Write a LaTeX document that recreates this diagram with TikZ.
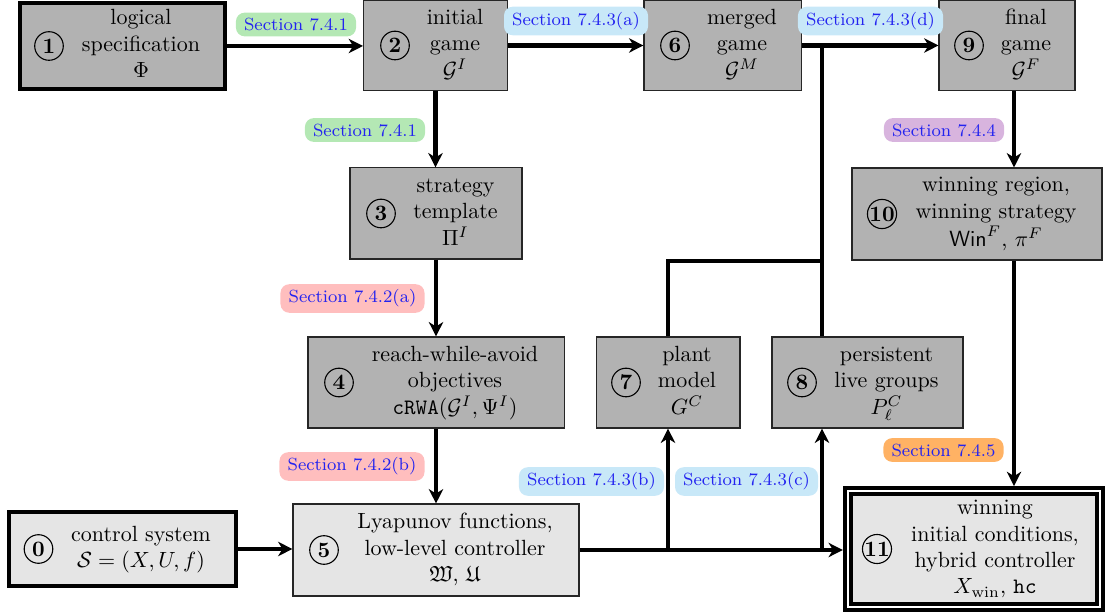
\documentclass[tikz,border=0pt]{standalone}
\usepackage{amsmath,amssymb}
\usetikzlibrary{arrows.meta,calc}
\definecolor{secblue}{RGB}{35,35,240}
\definecolor{lgreen}{RGB}{180,232,180}
\definecolor{lblue}{RGB}{200,232,248}
\definecolor{lpink}{RGB}{255,190,190}
\definecolor{lpurple}{RGB}{216,180,222}
\definecolor{lorange}{RGB}{255,178,100}
\begin{document}
\begin{tikzpicture}[x=0.4545pt,y=-0.4545pt,
  box/.style={draw=black!85,line width=0.5pt,inner sep=0pt,outer sep=0.25pt,anchor=center},
  darkbox/.style={box,fill=black!30},
  lightbox/.style={box,fill=black!10},
  heavybox/.style={draw=black,line width=1.9pt,outer sep=0.95pt},
  num/.style={circle,draw,line width=0.5pt,minimum size=13pt,inner sep=0pt,font=\bfseries},
  txt/.style={inner sep=0pt,anchor=center},
  conn/.style={line width=1.9pt},
  arr/.style={conn,-{Stealth[length=6.5pt,width=6.5pt,inset=2pt]}},
  sec/.style={fill=#1,rounded corners=4pt,text=secblue,font=\footnotesize,inner xsep=3.7pt,inner ysep=2.5pt},
]
\useasboundingbox (0,0) rectangle (1105,616);

% boxes
\node[darkbox,heavybox,minimum width=93.2pt,minimum height=39.1pt] (n1) at (122.5,46) {};
\node[darkbox,minimum width=65.4pt,minimum height=40.9pt] (n2) at (435.5,45.5) {};
\node[darkbox,minimum width=71.4pt,minimum height=40.9pt] (n6) at (722.5,45.5) {};
\node[darkbox,minimum width=61.8pt,minimum height=40.9pt] (n9) at (1007,45.5) {};
\node[darkbox,minimum width=78.2pt,minimum height=41.4pt] (n3) at (436,213.5) {};
\node[darkbox,minimum width=113.6pt,minimum height=41.8pt] (n10) at (977,214) {};
\node[darkbox,minimum width=116.4pt,minimum height=41.4pt] (n4) at (436,382.5) {};
\node[darkbox,minimum width=65.4pt,minimum height=41.4pt] (n7) at (668,382.5) {};
\node[darkbox,minimum width=86.8pt,minimum height=41.4pt] (n8) at (867.5,382.5) {};
\node[lightbox,heavybox,minimum width=103.2pt,minimum height=33.6pt] (n0) at (122.5,549) {};
\node[lightbox,minimum width=130pt,minimum height=41.8pt] (n5) at (436,550) {};
\node[draw=black,double=white,double distance=1.1pt,line width=1.8pt,fill=black!10,
      inner sep=0pt,outer sep=2.35pt,minimum width=114.5pt,minimum height=52.5pt] (n11) at (974,549) {};

% numbers
\node[num] (c1) at (49,46) {1};
\node[num] (c2) at (395,45.5) {2};
\node[num] (c6) at (675,45.5) {6};
\node[num] (c9) at (969,45.5) {9};
\node[num] (c3) at (381,213.5) {3};
\node[num] (c10) at (882,214) {10};
\node[num] (c4) at (339,382.5) {4};
\node[num] (c7) at (626,382.5) {7};
\node[num] (c8) at (802,382.5) {8};
\node[num] (c0) at (38.5,549) {0};
\node[num] (c5) at (324,550) {5};
\node[num] (c11) at (877,549) {11};

% texts
\node[txt] (t1) at (141,46) {\begin{tabular}{@{}c@{}}logical\\specification\\$\Phi$\end{tabular}};
\node[txt] (t2) at (455,45.5) {\begin{tabular}{@{}c@{}}initial\\game\\$\mathcal{G}^I$\end{tabular}};
\node[txt] (t6) at (742,45.5) {\begin{tabular}{@{}c@{}}merged\\game\\$\mathcal{G}^M$\end{tabular}};
\node[txt] (t9) at (1026,45.5) {\begin{tabular}{@{}c@{}}final\\game\\$\mathcal{G}^F$\end{tabular}};
\node[txt] (t3) at (455.5,213.5) {\begin{tabular}{@{}c@{}}strategy\\template\\$\Pi^I$\end{tabular}};
\node[txt] (t10) at (996,214) {\begin{tabular}{@{}c@{}}winning region,\\winning strategy\\$\mathsf{Win}^F$, $\pi^F$\end{tabular}};
\node[txt] (t4) at (455,382.5) {\begin{tabular}{@{}c@{}}reach-while-avoid\\objectives\\\texttt{cRWA}$(\mathcal{G}^I,\Psi^I)$\end{tabular}};
\node[txt] (t7) at (687,382.5) {\begin{tabular}{@{}c@{}}plant\\model\\$G^C$\end{tabular}};
\node[txt] (t8) at (886.5,382.5) {\begin{tabular}{@{}c@{}}persistent\\live groups\\$P_\ell^C$\end{tabular}};
\node[txt] (t0) at (141,549) {\begin{tabular}{@{}c@{}}control system\\$\mathcal{S}=(X,U,f)$\end{tabular}};
\node[txt] (t5) at (455,550) {\begin{tabular}{@{}c@{}}Lyapunov functions,\\low-level controller\\$\mathfrak{W}$, $\mathfrak{U}$\end{tabular}};
\node[txt] (t11) at (995,549) {\begin{tabular}{@{}c@{}}winning\\initial conditions,\\hybrid controller\\$X_{\mathrm{win}}$, \texttt{hc}\end{tabular}};

% helper coordinates
\coordinate (k) at (1014,0);
\coordinate (m) at (822,45.5);
\coordinate (h) at (822,261);
\coordinate (j7) at (n7.south |- n5.east);
\coordinate (j8) at (m |- n5.east);

% connectors
\draw[arr] (n1.east) -- (n1.east -| n2.west);
\draw[arr] (n2.east) -- (n6.west);
\draw[arr] (n6.east) -- (n9.west);
\draw[arr] (n2.south) -- (n2.south |- n3.north);
\draw[arr] (n3.south) -- (n4.north);
\draw[arr] (n4.south) -- (n5.north);
\draw[arr] (n9.south -| k) -- (n10.north -| k);
\draw[arr] (n10.south -| k) -- (n11.north -| k);
\draw[arr] (n0.east) -- (n0.east -| n5.west);
\draw[arr] (n5.east) -- (n5.east -| n11.west);
\draw[arr] (j7) -- (n7.south);
\draw[arr] (j8) -- (j8 |- n8.south);
\draw[conn] (n7.north) |- (h);
\draw[conn] (m |- n8.north) -- (m);

% section labels
\node[sec=lgreen] (s1) at (296,24.5) {Section 7.4.1};
\node[sec=lblue] (s2) at (576,21) {Section 7.4.3(a)};
\node[sec=lblue] (s3) at (870.5,21) {Section 7.4.3(d)};
\node[sec=lgreen] (s4) at (365,130) {Section 7.4.1};
\node[sec=lpink] (s5) at (352.5,298.5) {Section 7.4.2(a)};
\node[sec=lpink] (s6) at (352,466.5) {Section 7.4.2(b)};
\node[sec=lpurple] (s7) at (944,130) {Section 7.4.4};
\node[sec=lorange] (s8) at (943.5,450) {Section 7.4.5};
\node[sec=lblue] (s9) at (591.5,481.5) {Section 7.4.3(b)};
\node[sec=lblue] (s10) at (746.5,481.5) {Section 7.4.3(c)};
\end{tikzpicture}
\end{document}
